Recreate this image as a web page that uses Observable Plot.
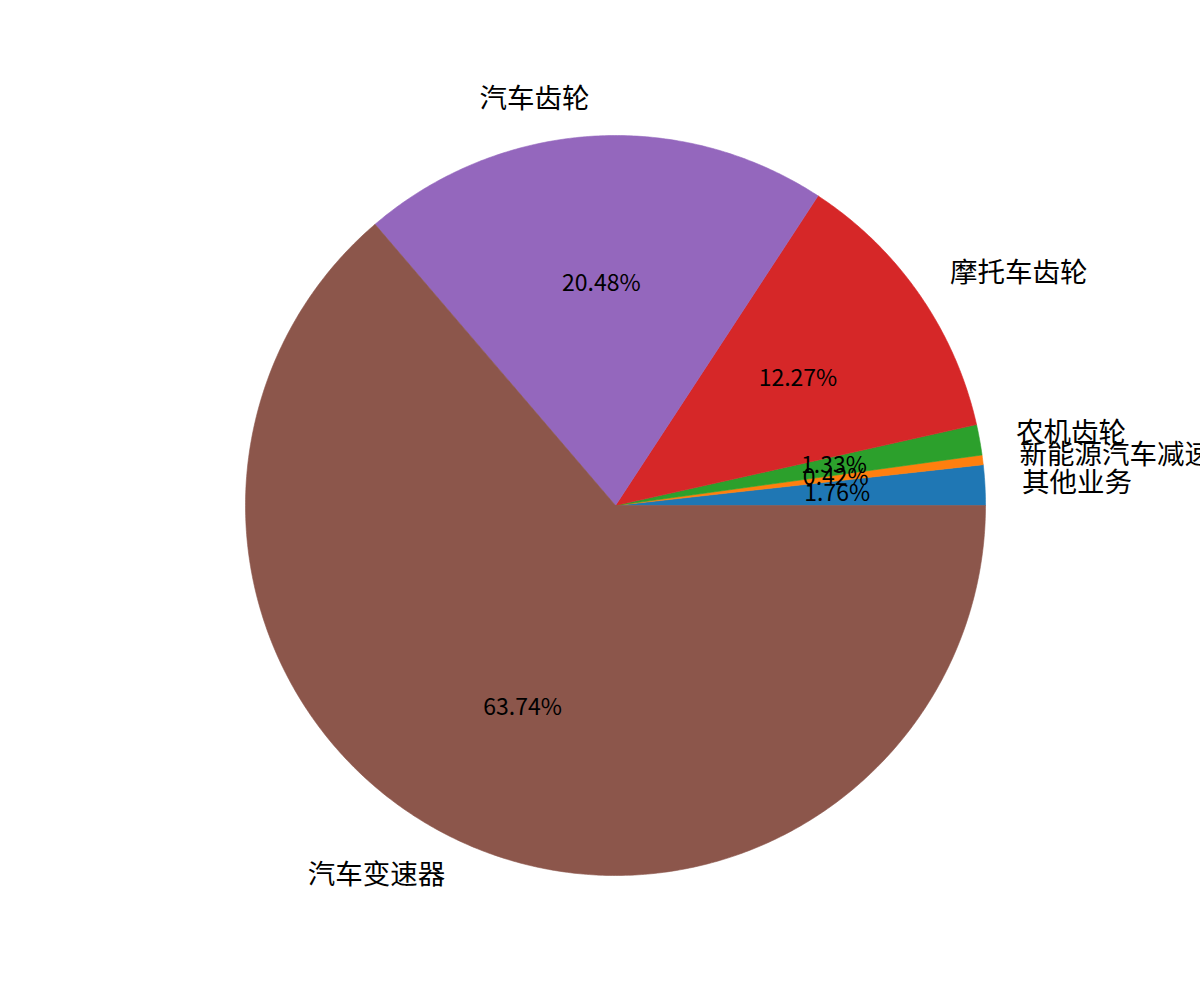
<!DOCTYPE html>
<html>
<head>
<meta charset="utf-8">
<script src="https://cdn.jsdelivr.net/npm/d3@7"></script>
<script src="https://cdn.jsdelivr.net/npm/@observablehq/plot@0.6"></script>
<style>
  html, body { margin: 0; padding: 0; background: #fff; }
  #chart { width: 1200px; height: 1000px; }
</style>
</head>
<body>
<div id="chart"></div>
<script>
const labels = ["其他业务", "新能源汽车减速器", "农机齿轮", "摩托车齿轮", "汽车齿轮", "汽车变速器"];
const values = [1.76, 0.42, 1.33, 12.27, 20.48, 63.74];
const colors = ["#1f77b4", "#ff7f0e", "#2ca02c", "#d62728", "#9467bd", "#8c564b"];

const total = d3.sum(values);
const slices = [];
let acc = 0;
labels.forEach((name, i) => {
  const a0 = acc / total * 360;
  acc += values[i];
  const a1 = acc / total * 360;
  slices.push({name, value: values[i], a0, a1, mid: (a0 + a1) / 2, color: colors[i]});
});

const rad = d => d * Math.PI / 180;
const poly = [];
slices.forEach(s => {
  poly.push({name: s.name, x: 0, y: 0});
  const n = Math.max(2, Math.ceil((s.a1 - s.a0) / 0.5));
  for (let k = 0; k <= n; k++) {
    const a = rad(s.a0 + (s.a1 - s.a0) * k / n);
    poly.push({name: s.name, x: Math.cos(a), y: Math.sin(a)});
  }
  poly.push({name: s.name, x: 0, y: 0});
});

const labelPts = slices.map(s => ({name: s.name, x: 1.1 * Math.cos(rad(s.mid)), y: 1.1 * Math.sin(rad(s.mid))}));
const pctPts = slices.map(s => ({text: (s.value / total * 100).toFixed(2) + "%", x: 0.6 * Math.cos(rad(s.mid)), y: 0.6 * Math.sin(rad(s.mid))}));

const R = 370, cx = 615, cy = 505, W = 1200, H = 1000;
const font = "'Noto Sans CJK SC', 'Noto Sans', sans-serif";

const chart = Plot.plot({
  width: W, height: H,
  margin: 0,
  x: {domain: [-cx / R, (W - cx) / R], axis: null},
  y: {domain: [-(H - cy) / R, cy / R], axis: null},
  color: {domain: labels, range: colors},
  style: {fontFamily: font, background: "#fff"},
  marks: [
    Plot.line(poly, {x: "x", y: "y", z: "name", fill: "name", stroke: "name", strokeWidth: 0.6, curve: "linear"}),
    Plot.text(labelPts.filter(d => d.x >= 0), {x: "x", y: "y", text: "name", textAnchor: "start", fontSize: 27.5, fill: "black", fontFamily: font}),
    Plot.text(labelPts.filter(d => d.x < 0), {x: "x", y: "y", text: "name", textAnchor: "end", fontSize: 27.5, fill: "black", fontFamily: font}),
    Plot.text(pctPts, {x: "x", y: "y", text: "text", fontSize: 23, fill: "black", fontFamily: font})
  ]
});
document.getElementById("chart").appendChild(chart);
</script>
</body>
</html>
